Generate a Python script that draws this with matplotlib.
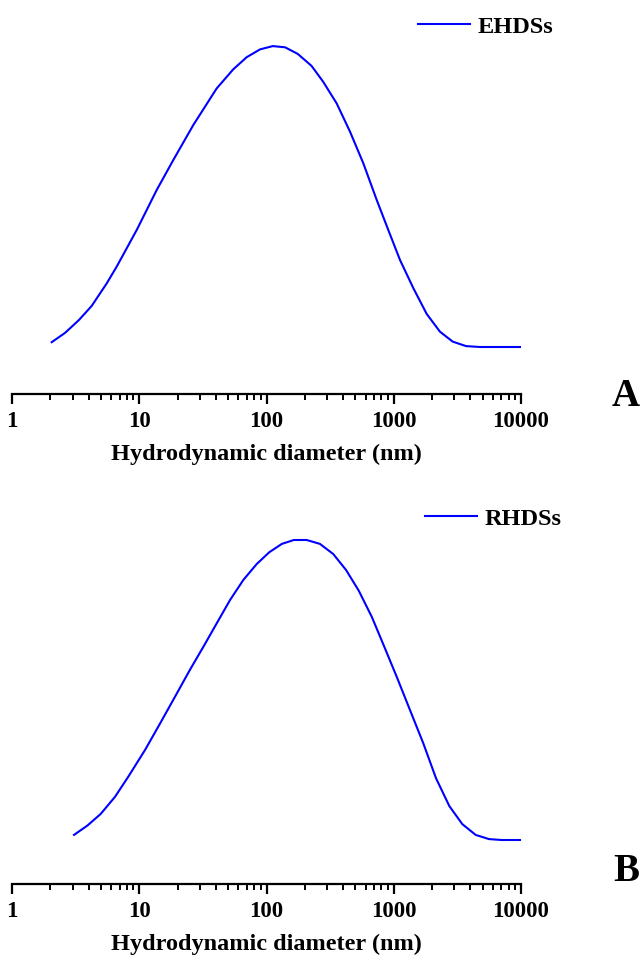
import numpy as np
import matplotlib.pyplot as plt
from matplotlib.ticker import LogLocator, NullFormatter, FixedLocator, FixedFormatter

plt.rcParams['font.family'] = ['Liberation Serif', 'DejaVu Serif']
plt.rcParams['font.weight'] = 'bold'

# EHDSs size distribution (diameter nm, intensity a.u.)
ehds_d = [2.05, 2.61, 3.36, 4.23, 5.55, 6.65, 9.55, 13.7, 18.5, 26.6, 40.6, 54.9,
          69.9, 88.9, 112, 140, 176, 226, 279, 356, 453, 577, 735, 906, 1120,
          1426, 1816, 2308, 2904, 3698, 4764, 10000]
ehds_i = [0.16, 0.47, 0.90, 1.37, 2.12, 2.68, 3.90, 5.23, 6.23, 7.40, 8.62, 9.26,
          9.66, 9.92, 10.03, 9.99, 9.77, 9.37, 8.84, 8.12, 7.18, 6.12, 4.90, 3.90,
          2.90, 1.96, 1.10, 0.51, 0.18, 0.03, 0.0, 0.0]

# RHDSs size distribution
rhds_d = [3.07, 3.91, 4.98, 6.45, 8.20, 11.1, 14.6, 18.5, 25.0, 31.9, 40.6, 51.7,
          65.8, 83.8, 105, 132, 164, 207, 263, 335, 422, 531, 672, 843, 1067,
          1342, 1708, 2148, 2735, 3456, 4403, 5606, 7047, 10000]
rhds_i = [0.17, 0.48, 0.87, 1.44, 2.11, 3.00, 3.89, 4.67, 5.67, 6.44, 7.22, 8.00,
          8.67, 9.20, 9.59, 9.87, 10.0, 10.0, 9.87, 9.53, 9.00, 8.31, 7.44, 6.44,
          5.39, 4.33, 3.22, 2.06, 1.13, 0.53, 0.17, 0.03, 0.0, 0.0]

tick_vals = [1, 10, 100, 1000, 10000]
tick_labels = ['1', '10', '100', '1000', '10000']

W, H = 641, 955
fig = plt.figure(figsize=(W / 100, H / 100), dpi=100)


def panel(top_px, bot_px, base_px, d, inten, name, letter, leg_x, leg_y, let_y):
    hpx = bot_px - top_px
    ax = fig.add_axes([12 / W, 1 - bot_px / H, 509 / W, hpx / H])
    ax.plot(d, inten, color='#0000ff', lw=1.5, label=name)
    ax.set_xscale('log')
    ax.set_xlim(1, 10000)
    ax.set_ylim(-(bot_px - base_px) / 30, (base_px - top_px) / 30)
    for s in ['top', 'left', 'right']:
        ax.spines[s].set_visible(False)
    ax.spines['bottom'].set_linewidth(1.6)
    ax.set_yticks([])
    ax.xaxis.set_major_locator(FixedLocator(tick_vals))
    ax.xaxis.set_major_formatter(FixedFormatter(tick_labels))
    ax.xaxis.set_minor_locator(LogLocator(base=10, subs=np.arange(2, 10), numticks=20))
    ax.xaxis.set_minor_formatter(NullFormatter())
    ax.tick_params(axis='x', which='major', direction='out', length=7, width=1.6,
                   labelsize=16.5, pad=5)
    ax.tick_params(axis='x', which='minor', direction='out', length=4, width=1.4)
    for lab in ax.get_xticklabels():
        lab.set_fontweight('bold')
    ax.set_xlabel('Hydrodynamic diameter (nm)', fontsize=17.5, fontweight='bold', labelpad=9)
    ax.legend(loc='center left',
              bbox_to_anchor=((leg_x - 12) / 509, 1 - (leg_y - top_px) / hpx),
              frameon=False, prop={'size': 17.5, 'weight': 'bold'},
              handlelength=2.15, handletextpad=0.3, borderaxespad=0, borderpad=0)
    fig.text(626 / W, 1 - let_y / H, letter, fontsize=28, fontweight='bold',
             ha='center', va='center')
    return ax


panel(10, 394, 347, ehds_d, ehds_i, 'EHDSs', 'A', 418, 27, 396)
panel(505, 884, 840, rhds_d, rhds_i, 'RHDSs', 'B', 425, 519, 871)

fig.savefig('out.png', dpi=100)
